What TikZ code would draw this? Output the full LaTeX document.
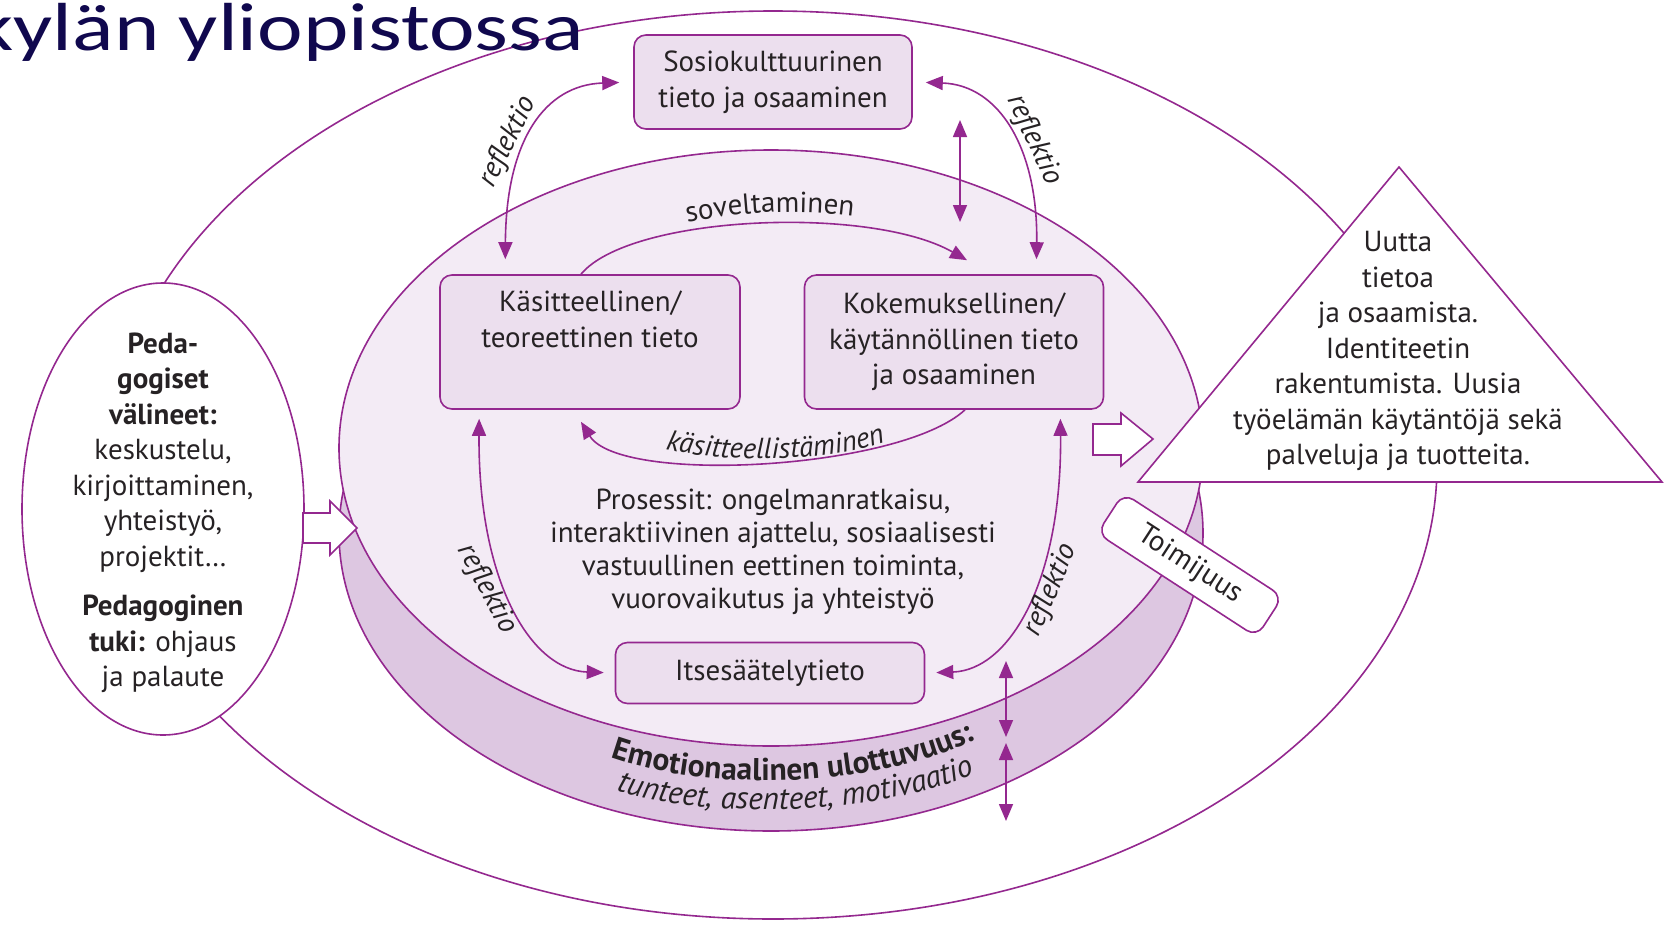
\documentclass[tikz,border=0pt]{standalone}
\usepackage{fontspec}
\usepackage{graphicx}
\setmainfont{PT Sans}
\newfontfamily\titlefont{Carlito}
\usetikzlibrary{arrows.meta,decorations.text,shapes.geometric}
\definecolor{purp}{RGB}{148,40,143}
\definecolor{boxfill}{RGB}{236,223,238}
\definecolor{discfill}{RGB}{243,235,245}
\definecolor{bandfill}{RGB}{221,199,225}
\definecolor{txt}{RGB}{38,34,36}
\definecolor{navy}{RGB}{16,8,78}
\newcommand\bsize{\fontsize{29}{35.5}\selectfont}
\newcommand\esize{\fontsize{31.5}{35.5}\selectfont}
\tikzset{mytip/.tip={Triangle[length=17pt,width=14pt]}}
\begin{document}
\begin{tikzpicture}[x=1pt,y=-1pt,
  pline/.style={draw=purp, line width=1.6pt},
  kbox/.style={pline, fill=boxfill, rounded corners=12pt, align=center, text=txt, font=\bsize, inner sep=0pt},
  arr/.style={draw=purp, line width=1.6pt, -mytip},
  darr/.style={draw=purp, line width=1.6pt, mytip-mytip},
  lbl/.style={text=txt, font=\bsize\itshape, inner sep=0pt},
  plain/.style={text=txt, font=\bsize, align=center, inner sep=0pt},
  blockarrow/.style={pline, fill=white, line join=miter}]
\useasboundingbox (0,0) rectangle (1671,924);
\fill[white] (0,0) rectangle (1671,924);

% outer ellipse
\node[ellipse, pline, minimum width=1328pt, minimum height=908pt, inner sep=0pt] (outer) at (773,465) {};

% left pedagogic ellipse
\node[ellipse, pline, fill=white, minimum width=282pt, minimum height=452pt, inner sep=0pt] (ped) at (163,509) {};
\node[plain] (pedtext) at (163,513) {{\bfseries Peda-}\\ {\bfseries gogiset}\\ {\bfseries välineet:}\\ keskustelu,\\ kirjoittaminen,\\ yhteistyö,\\ projektit…\\[14pt] {\bfseries Pedagoginen}\\ {\bfseries tuki:} ohjaus\\ ja palaute};

% disc (cylinder)
\node[ellipse, pline, fill=bandfill, minimum width=864pt, minimum height=596pt, inner sep=0pt] (discbottom) at (771,533) {};
\node[ellipse, pline, fill=discfill, minimum width=864pt, minimum height=596pt, inner sep=0pt] (disctop) at (771,448) {};

% boxes
\node[kbox, minimum width=278pt, minimum height=94pt] (sosio) at (773,82) {Sosiokulttuurinen\\ tieto ja osaaminen};
\node[kbox, minimum width=300pt, minimum height=134pt] (kasit) at (590,342) {Käsitteellinen/\\ teoreettinen tieto\\ \strut};
\node[kbox, minimum width=299pt, minimum height=134pt] (kokem) at (954,342) {Kokemuksellinen/\\ käytännöllinen tieto\\ ja osaaminen};
\node[kbox, minimum width=309pt, minimum height=61pt] (itse) at (770,673) {Itsesäätelytieto};

% process text
\node[plain, font=\fontsize{29}{33}\selectfont] (proc) at (773,552) {Prosessit: ongelmanratkaisu,\\ interaktiivinen ajattelu, sosiaalisesti\\ vastuullinen eettinen toiminta,\\ vuorovaikutus ja yhteistyö};

% reflektio arrows
\draw[darr, shorten <=15pt, shorten >=14pt] ([xshift=66pt]kasit.north west) .. controls (506,140) and (545,85) .. (sosio.west);
\draw[darr, shorten <=13pt, shorten >=15pt] (sosio.east) .. controls (1000,85) and (1038,150) .. ([xshift=-68pt]kokem.north east);
\draw[darr, shorten <=9pt, shorten >=11pt] ([xshift=40pt]kasit.south west) .. controls (478,580) and (530,670) .. (itse.west);
\draw[darr, shorten <=9pt, shorten >=11pt] ([xshift=-44pt]kokem.south east) .. controls (1062,580) and (1010,670) .. (itse.east);
\node[lbl, rotate=64] (r1) at (508,142) {reflektio};
\node[lbl, rotate=-65] (r2) at (1034,140) {reflektio};
\node[lbl, rotate=-62] (r3) at (487,589) {reflektio};
\node[lbl, rotate=67] (r4) at (1051,590) {reflektio};

% vertical double arrows
\coordinate (va) at (960,120);
\coordinate (vb) at (960,222);
\draw[darr] (va) -- (vb);
\coordinate (vc) at (1006,661);
\coordinate (vd) at (1006,737);
\coordinate (ve) at (1006,743);
\coordinate (vf) at (1006,821);
\draw[darr] (vc) -- (vd);
\draw[darr] (ve) -- (vf);

% soveltaminen / kasitteellistaminen
\draw[arr] ([xshift=-9pt]kasit.north) .. controls (630,215) and (870,205) .. ([xshift=13pt,yshift=14pt]kokem.north);
\path[decorate, decoration={text along path, text align=center, text={|\color{txt}\bsize|soveltaminen}}] (600,263) .. controls (660,201) and (880,196) .. (945,246);
\draw[arr] ([xshift=11pt]kokem.south) .. controls (900,470) and (620,485) .. ([xshift=-9pt,yshift=-12pt]kasit.south);
\path[decorate, decoration={text along path, text align=center, text={|\color{txt}\bsize\itshape|käsitteellistäminen}}] (640,441) .. controls (700,466) and (850,466) .. (910,431);

% emotional band text
\path[decorate, decoration={text along path, text align=center, text={|\color{txt}\esize\bfseries|Emotionaalinen ulottuvuus:}}] (585,747) .. controls (690,797) and (890,792) .. (1000,727);
\path[decorate, decoration={text along path, text align=center, text={|\color{txt}\esize\itshape|tunteet, asenteet, motivaatio}}] (595,783) .. controls (690,823) and (890,818) .. (995,765);

% triangle
\coordinate (tA) at (1399,167);
\coordinate (tB) at (1138,482);
\coordinate (tC) at (1662,482);
\draw[pline, fill=white, line join=miter] (tA) -- (tB) -- (tC) -- cycle;
\node[plain] (tritext) at (1398,351) {Uutta\\ tietoa\\ ja osaamista.\\ Identiteetin\\ rakentumista. Uusia\\ työelämän käytäntöjä sekä\\ palveluja ja tuotteita.};

% block arrows
\coordinate (lbt) at (357,528);
\draw[blockarrow] (303,513) -- (330,513) -- (330,501) -- (lbt) -- (330,555) -- (330,543) -- (303,543) -- cycle;
\coordinate (rbt) at (1153,439);
\draw[blockarrow] (1093,424) -- (1121,424) -- (1121,413) -- (rbt) -- (1121,466) -- (1121,455) -- (1093,455) -- cycle;

% Toimijuus
\node[kbox, fill=white, rotate=-33, minimum width=190pt, minimum height=48pt] (toim) at (1190,565) {Toimijuus};

% title
\node[anchor=base east, text=navy, inner sep=0pt] (title) at (584,50) {\titlefont\fontsize{68}{72}\selectfont\scalebox{1.27}[1]{kylän yliopistossa}};
\end{tikzpicture}
\end{document}
